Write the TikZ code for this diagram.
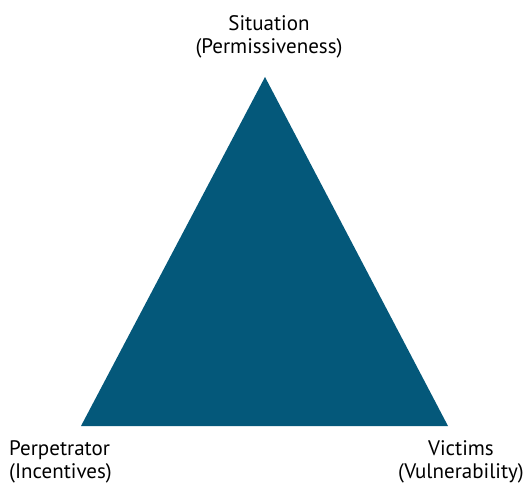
\documentclass[tikz,border=0pt]{standalone}
\usepackage{fontspec}
\setmainfont{PT Sans}
\definecolor{tri}{RGB}{4,88,122}
\begin{document}
\begin{tikzpicture}[x=1pt,y=-1pt,
  lbl/.style={font=\fontsize{21}{23}\selectfont, inner sep=0pt, text=black}]
\useasboundingbox (0,0) rectangle (527,486);
% the triangle
\coordinate (top) at (265,77);
\coordinate (bl) at (81,426);
\coordinate (br) at (448,426);
\fill[tri] (top) -- (bl) -- (br) -- cycle;
% corner labels (base anchor sits on the last line)
\node[lbl, align=center, anchor=base] (sit) at (269,54) {Situation\\(Permissiveness)};
\node[lbl, align=left, anchor=base west] (perp) at (9,478) {Perpetrator\\(Incentives)};
\node[lbl, align=center, anchor=base] (vic) at (461,478) {Victims\\(Vulnerability)};
\end{tikzpicture}
\end{document}
